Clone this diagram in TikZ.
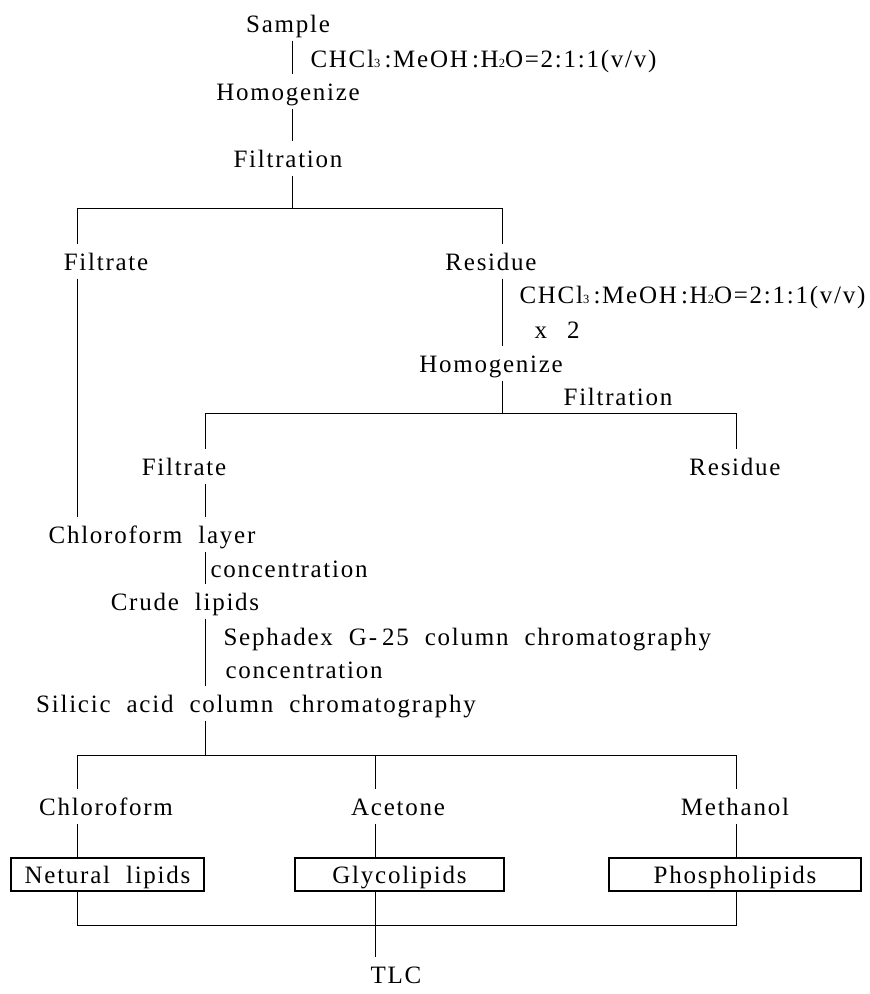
\documentclass[tikz,border=0pt]{standalone}
\usepackage{fontspec}
\setmainfont{Liberation Serif}[LetterSpace=7,WordSpace=2]
\usetikzlibrary{calc}
\newcommand{\chemsub}[1]{{\fontsize{12.5}{13}\selectfont #1}}

\begin{document}
\begin{tikzpicture}[x=1pt,y=-1pt,line width=1pt,
  lbl/.style={font=\fontsize{25}{30}\selectfont,inner xsep=0pt,inner ysep=4pt,
    text height=22pt,text depth=4pt,anchor=base},
  note/.style={lbl,anchor=base west},
  fraction/.style={draw,line width=2pt,font=\fontsize{25}{30}\selectfont,
    minimum height=33pt,text height=20pt,text depth=3pt,inner sep=0pt}]
\useasboundingbox (0,0) rectangle (870,994);

\node[lbl] (sample) at (288,32) {Sample};
\node[note] (solv1) at (310,67) {CHCl\chemsub{3}\,:MeOH\,:H\chemsub{2}O=2:1:1(v/v)};
\node[lbl] (homog1) at (288,100) {Homogenize};
\node[lbl] (filt1) at (288,167) {Filtration};
\node[lbl] (filtrate1) at (106,270) {Filtrate};
\node[lbl] (residue1) at (491,270) {Residue};
\node[note] (solv2) at (519,303) {CHCl\chemsub{3}\,:MeOH\,:H\chemsub{2}O=2:1:1(v/v)};
\node[note] (twice) at (534,338) {x\ \,2};
\node[lbl] (homog2) at (491,372) {Homogenize};
\node[lbl] (filt2) at (618,405) {Filtration};
\node[lbl] (filtrate2) at (184,475) {Filtrate};
\node[lbl] (residue2) at (735,475) {Residue};
\node[lbl] (chlayer) at (152,543) {Chloroform layer};
\node[note] (conc1) at (210,577) {concentration};
\node[lbl] (crude) at (185,610) {Crude lipids};
\node[note] (sephadex) at (223,645) {Sephadex G-\hspace{0.2em}25 column chromatography};
\node[note] (conc2) at (225,678) {concentration};
\node[lbl] (silicic) at (256,712) {Silicic acid column chromatography};
\node[lbl] (chloroform) at (106,815) {Chloroform};
\node[lbl] (acetone) at (398,815) {Acetone};
\node[lbl] (methanol) at (735,815) {Methanol};
\node[fraction,minimum width=193pt] (neutral) at (107.5,874.5) {Netural lipids};
\node[fraction,minimum width=209pt] (glyco) at (399.5,874.5) {Glycolipids};
\node[fraction,minimum width=252pt] (phospho) at (735,874.5) {Phospholipids};
\node[lbl] (tlc) at (396,983) {TLC};

\coordinate (split1) at (292,208);
\coordinate (l1) at (77,208);
\coordinate (r1) at (502,208);
\coordinate (split2) at (502,413);
\coordinate (l2) at (205,413);
\coordinate (r2) at (736,413);
\coordinate (split3) at (375,755);
\coordinate (l3) at (77,755);
\coordinate (r3) at (736,755);
\coordinate (join) at (375,925);
\coordinate (l4) at (77,925);
\coordinate (r4) at (736,925);

\draw (sample.south -| split1) -- (homog1.north -| split1);
\draw (homog1.south -| split1) -- (filt1.north -| split1);
\draw (filt1.south -| split1) -- (split1);
\draw (filtrate1.north -| l1) -- (l1) -- (r1) -- (residue1.north -| r1);
\draw (filtrate1.south -| l1) -- (chlayer.north -| l1);
\draw (residue1.south -| r1) -- (homog2.north -| r1);
\draw (homog2.south -| split2) -- (split2);
\draw (filtrate2.north -| l2) -- (l2) -- (r2) -- (residue2.north -| r2);
\draw (filtrate2.south -| l2) -- (chlayer.north -| l2);
\draw (chlayer.south -| l2) -- (crude.north -| l2);
\draw (crude.south -| l2) -- (silicic.north -| l2);
\draw (silicic.south -| l2) -- (l2 |- split3);
\draw (chloroform.north -| l3) -- (l3) -- (r3) -- (methanol.north -| r3);
\draw (split3) -- (acetone.north -| split3);
\draw (chloroform.south -| l3) -- (neutral.north -| l3);
\draw (acetone.south -| split3) -- (glyco.north -| split3);
\draw (methanol.south -| r3) -- (phospho.north -| r3);
\draw (neutral.south -| l4) -- (l4) -- (r4) -- (phospho.south -| r4);
\draw (glyco.south -| join) -- (tlc.north -| join);
\end{tikzpicture}
\end{document}
